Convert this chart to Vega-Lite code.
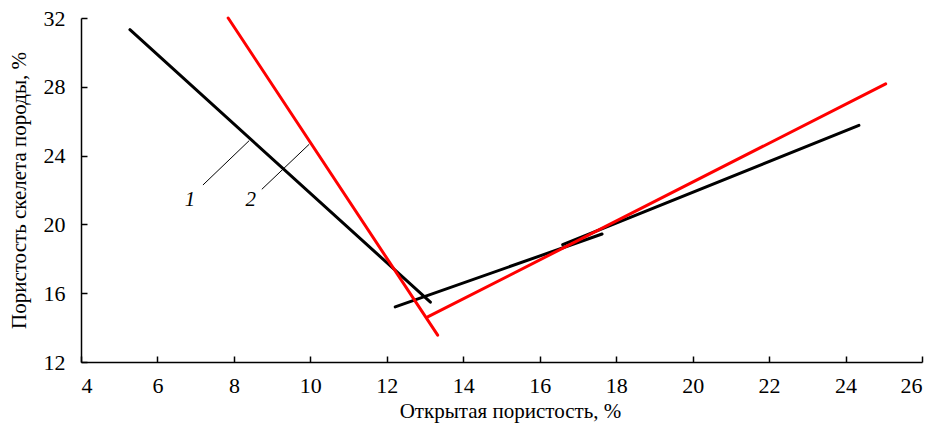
{
  "$schema": "https://vega.github.io/schema/vega-lite/v6.json",
  "width": 841,
  "height": 344,
  "autosize": "none",
  "padding": {"left": 81, "top": 18, "right": 17, "bottom": 62},
  "config": {
    "view": {"stroke": null},
    "font": "Liberation Serif",
    "axis": {
      "grid": false,
      "domainColor": "black",
      "domainWidth": 1.5,
      "tickColor": "black",
      "tickWidth": 1.5,
      "tickSize": -6,
      "labelFont": "Liberation Serif",
      "labelFontSize": 22,
      "labelColor": "black",
      "titleFont": "Liberation Serif",
      "titleFontSize": 21,
      "titleFontWeight": "normal",
      "titleColor": "black"
    }
  },
  "datasets": {
    "lines": [
      {"seg": "A", "color": "black", "x": 5.28, "y": 31.32},
      {"seg": "A", "color": "black", "x": 13.14, "y": 15.48},
      {"seg": "B", "color": "black", "x": 12.22, "y": 15.2},
      {"seg": "B", "color": "black", "x": 17.63, "y": 19.44},
      {"seg": "C", "color": "black", "x": 16.6, "y": 18.82},
      {"seg": "C", "color": "black", "x": 24.35, "y": 25.76},
      {"seg": "D", "color": "red", "x": 7.85, "y": 32.0},
      {"seg": "D", "color": "red", "x": 13.33, "y": 13.56},
      {"seg": "E", "color": "red", "x": 13.07, "y": 14.62},
      {"seg": "E", "color": "red", "x": 25.05, "y": 28.17}
    ],
    "leaders": [
      {"x": 7.19, "y": 22.29, "x2": 8.4, "y2": 24.87},
      {"x": 8.73, "y": 22.04, "x2": 9.97, "y2": 24.66}
    ],
    "labels": [
      {"x": 6.85, "y": 21.4, "t": "1"},
      {"x": 8.44, "y": 21.4, "t": "2"}
    ]
  },
  "layer": [
    {
      "data": {"name": "lines"},
      "transform": [{"filter": "datum.color === 'black'"}],
      "mark": {"type": "line", "color": "black", "strokeWidth": 3, "strokeCap": "round"},
      "encoding": {
        "x": {"field": "x", "type": "quantitative", "scale": {"domain": [4, 26], "nice": false, "zero": false}, "axis": {"values": [4,6,8,10,12,14,16,18,20,22,24,26], "title": "Открытая пористость, %", "labelPadding": 19, "titlePadding": 4, "titleX": 429}},
        "y": {"field": "y", "type": "quantitative", "scale": {"domain": [12, 32], "nice": false, "zero": false}, "axis": {"values": [12,16,20,24,28,32], "title": "Пористость скелета породы, %", "labelPadding": 22, "titlePadding": 14}},
        "detail": {"field": "seg"}
      }
    },
    {
      "data": {"name": "lines"},
      "transform": [{"filter": "datum.color === 'red'"}],
      "mark": {"type": "line", "color": "#ff0000", "strokeWidth": 3, "strokeCap": "round"},
      "encoding": {
        "x": {"field": "x", "type": "quantitative"},
        "y": {"field": "y", "type": "quantitative"},
        "detail": {"field": "seg"}
      }
    },
    {
      "data": {"name": "leaders"},
      "mark": {"type": "rule", "color": "black", "strokeWidth": 1},
      "encoding": {
        "x": {"field": "x", "type": "quantitative"},
        "y": {"field": "y", "type": "quantitative"},
        "x2": {"field": "x2"},
        "y2": {"field": "y2"}
      }
    },
    {
      "data": {"name": "labels"},
      "mark": {"type": "text", "font": "Liberation Serif", "fontStyle": "italic", "fontSize": 21, "color": "black"},
      "encoding": {
        "x": {"field": "x", "type": "quantitative"},
        "y": {"field": "y", "type": "quantitative"},
        "text": {"field": "t"}
      }
    }
  ]
}
